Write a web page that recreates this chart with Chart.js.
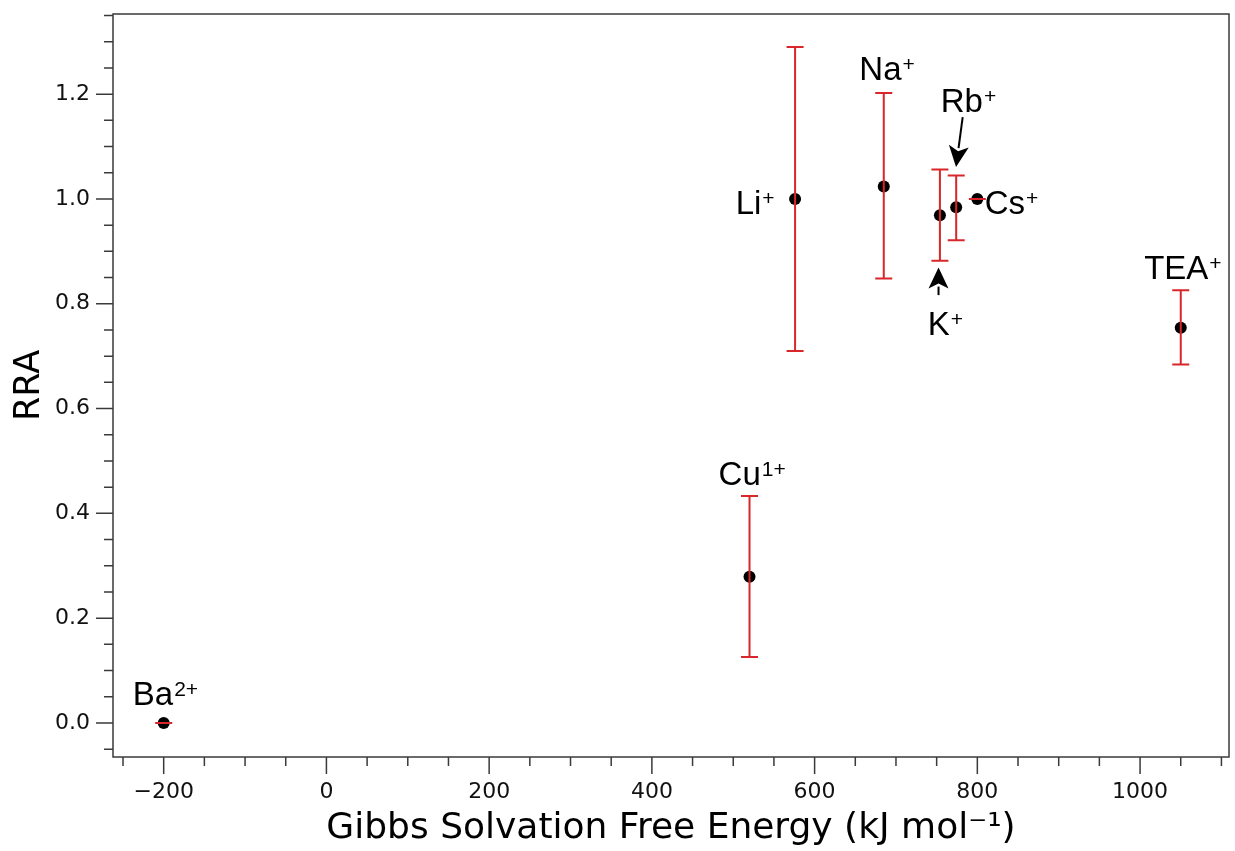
<!DOCTYPE html>
<html><head><meta charset="utf-8">
<script src="https://cdn.jsdelivr.net/npm/chart.js@4.4.1/dist/chart.umd.min.js"></script>
<style>html,body{margin:0;padding:0;background:#fff;}canvas{display:block;}</style>
</head><body>
<canvas id="c" width="1235" height="851"></canvas>
<script>
// ---- data ----
const ions     = ['Ba', 'Cu', 'Li', 'Na', 'K', 'Rb', 'Cs', 'TEA'];
const charges  = ['2+', '1+', '+', '+', '+', '+', '+', '+'];
const gibbs    = [-200, 520, 576, 685, 754, 774, 800, 1050];
const rra      = [0.000, 0.279, 1.000, 1.024, 0.969, 0.984, 1.000, 0.754];
const rraLow   = [0.000, 0.126, 0.710, 0.848, 0.882, 0.921, 1.000, 0.684];
const rraHigh  = [0.000, 0.433, 1.290, 1.202, 1.056, 1.045, 1.000, 0.826];
// label anchors (data coordinates, left/baseline of text)
const labelX   = [-238, 482, 503, 655, 739, 755, 809, 1005];
const labelY   = [0.034, 0.454, 0.972, 1.227, 0.740, 1.166, 0.972, 0.848];
// arrows (data coordinates): tail -> tip
const arrowFrom = [[782, 1.156], [752.3, 0.8165]];
const arrowTo   = [[773.8, 1.061], [752.3, 0.869]];
// axes
const xMajorTicks = [-200, 0, 200, 400, 600, 800, 1000];
const yMajorTicks = [0.0, 0.2, 0.4, 0.6, 0.8, 1.0, 1.2];
const xTitle = 'Gibbs Solvation Free Energy (kJ mol\u207B\u00B9)';
const yTitle = 'RRA';

const X_MIN = -262.3, X_MAX = 1109.3, X_MINOR = 50, X_MINOR_START = -250;
const Y_MIN = -0.065, Y_MAX = 1.353, Y_MINOR = 0.05, Y_MINOR_START = -0.05;
const errColor = '#d9262b';
const axisColor = '#3a3a3a';

function fmtX(v){ return v < 0 ? '\u2212' + Math.abs(v) : String(v); }
function noPad(s){ s.paddingTop = 0; s.paddingBottom = 0; s.paddingLeft = 0; s.paddingRight = 0; }

const overlay = {
  id: 'overlay',
  afterDatasetsDraw(chart){
    const ctx = chart.ctx, xs = chart.scales.x, ys = chart.scales.y;
    ctx.save();
    ctx.strokeStyle = errColor; ctx.lineWidth = 2; ctx.lineCap = 'butt';
    for (let i = 0; i < gibbs.length; i++){
      const px = xs.getPixelForValue(gibbs[i]);
      const lo = ys.getPixelForValue(rraLow[i]);
      const hi = ys.getPixelForValue(rraHigh[i]);
      ctx.beginPath();
      ctx.moveTo(px, lo); ctx.lineTo(px, hi);
      ctx.moveTo(px - 8.5, lo); ctx.lineTo(px + 8.5, lo);
      ctx.moveTo(px - 8.5, hi); ctx.lineTo(px + 8.5, hi);
      ctx.stroke();
    }
    ctx.restore();
  },
  afterDraw(chart){
    const ctx = chart.ctx, xs = chart.scales.x, ys = chart.scales.y;
    const a = chart.chartArea;
    ctx.save();
    // frame
    ctx.strokeStyle = axisColor; ctx.lineWidth = 1.5;
    ctx.strokeRect(a.left, a.top, a.right - a.left, a.bottom - a.top);
    // ticks
    ctx.beginPath();
    xs.ticks.forEach(t => {
      const px = xs.getPixelForValue(t.value);
      const len = t.label !== '' ? 17 : 9;
      ctx.moveTo(px, a.bottom); ctx.lineTo(px, a.bottom + len);
    });
    ys.ticks.forEach(t => {
      const py = ys.getPixelForValue(t.value);
      const len = t.label !== '' ? 17 : 9;
      ctx.moveTo(a.left, py); ctx.lineTo(a.left - len, py);
    });
    ctx.stroke();
    // labels
    ctx.fillStyle = '#000';
    ctx.textBaseline = 'alphabetic'; ctx.textAlign = 'left';
    for (let i = 0; i < ions.length; i++){
      const x = xs.getPixelForValue(labelX[i]);
      const y = ys.getPixelForValue(labelY[i]);
      ctx.font = '33px "Liberation Sans", Arial, sans-serif';
      ctx.fillText(ions[i], x, y);
      const w = ctx.measureText(ions[i]).width;
      ctx.font = '21px "Liberation Sans", Arial, sans-serif';
      ctx.fillText(charges[i], x + w + 1, y - 9);
    }
    // arrows
    ctx.strokeStyle = '#000'; ctx.fillStyle = '#000'; ctx.lineWidth = 2;
    for (let i = 0; i < arrowFrom.length; i++){
      const x0 = xs.getPixelForValue(arrowFrom[i][0]), y0 = ys.getPixelForValue(arrowFrom[i][1]);
      const x1 = xs.getPixelForValue(arrowTo[i][0]),   y1 = ys.getPixelForValue(arrowTo[i][1]);
      const dx = x1 - x0, dy = y1 - y0, L = Math.hypot(dx, dy);
      const ux = dx / L, uy = dy / L, hl = 21, hw = 10;
      const bx = x1 - ux * hl, by = y1 - uy * hl;
      ctx.beginPath(); ctx.moveTo(x0, y0); ctx.lineTo(bx + ux * 2, by + uy * 2); ctx.stroke();
      ctx.beginPath();
      ctx.moveTo(x1, y1);
      ctx.lineTo(bx - uy * hw, by + ux * hw);
      ctx.lineTo(bx + ux * 5, by + uy * 5);
      ctx.lineTo(bx + uy * hw, by - ux * hw);
      ctx.closePath(); ctx.fill();
    }
    ctx.restore();
  }
};

new Chart(document.getElementById('c'), {
  type: 'scatter',
  data: {
    datasets: [{
      data: gibbs.map((g, i) => ({x: g, y: rra[i]})),
      pointRadius: 6,
      pointHoverRadius: 6,
      pointBackgroundColor: '#000',
      pointBorderWidth: 0,
      showLine: false
    }]
  },
  options: {
    responsive: false,
    animation: false,
    events: [],
    layout: { padding: { left: 0, top: 14, right: 3, bottom: 0 } },
    plugins: { legend: { display: false }, tooltip: { enabled: false } },
    scales: {
      x: {
        type: 'linear', min: X_MIN, max: X_MAX,
        afterBuildTicks(s){
          const t = [];
          for (let v = X_MINOR_START; v <= X_MAX + 1e-9; v += X_MINOR) t.push({value: v});
          s.ticks = t;
        },
        afterFit(s){ s.height = 94; noPad(s); },
        grid: { display: true, drawOnChartArea: false, drawTicks: false },
        border: { display: false },
        ticks: {
          autoSkip: false, maxRotation: 0, padding: 22, color: '#111',
          font: { family: '"DejaVu Sans", sans-serif', size: 22 },
          callback: v => xMajorTicks.includes(v) ? fmtX(v) : ''
        },
        title: {
          display: true, text: xTitle, color: '#000',
          font: { family: '"DejaVu Sans", sans-serif', size: 36, lineHeight: 1.2 },
          padding: { top: 0, bottom: 1 }
        }
      },
      y: {
        type: 'linear', min: Y_MIN, max: Y_MAX,
        afterBuildTicks(s){
          const t = [];
          for (let k = 0; ; k++){
            const v = Math.round((Y_MINOR_START + k * Y_MINOR) * 100) / 100;
            if (v > Y_MAX + 1e-9) break;
            t.push({value: v});
          }
          s.ticks = t;
        },
        afterFit(s){ s.width = 113; noPad(s); },
        grid: { display: true, drawOnChartArea: false, drawTicks: false },
        border: { display: false },
        ticks: {
          autoSkip: false, padding: 23, color: '#111',
          font: { family: '"DejaVu Sans", sans-serif', size: 22 },
          callback: v => yMajorTicks.some(m => Math.abs(m - v) < 1e-6) ? v.toFixed(1) : ''
        },
        title: {
          display: true, text: yTitle, color: '#000',
          font: { family: '"DejaVu Sans", sans-serif', size: 35, lineHeight: 1.2 },
          padding: { top: 9, bottom: 0 }
        }
      }
    }
  },
  plugins: [overlay]
});
</script>
</body></html>
